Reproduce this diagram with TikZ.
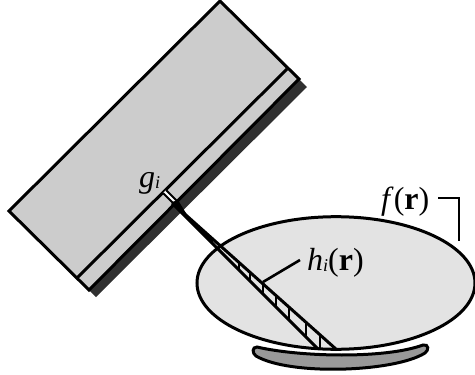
\documentclass[tikz,border=0pt]{standalone}
\usepackage{fontspec}
\setmainfont{Liberation Serif}
\usetikzlibrary{positioning}
\definecolor{slab}{gray}{0.80}
\definecolor{shield}{gray}{0.19}
\definecolor{body}{gray}{0.89}
\definecolor{lens}{gray}{0.60}
\newcommand{\lbl}[2]{\textit{#1}\raisebox{-1pt}{\fontsize{18}{18}\selectfont\textit{#2}}}
\tikzset{
  edge/.style={line width=#1,draw=black},
  edge/.default=3pt,
  lab/.style={font=\fontsize{32}{32}\selectfont,inner sep=0pt,anchor=base west},
}
\begin{document}
\begin{tikzpicture}[x=1pt,y=-1pt]
    \useasboundingbox (0,0) rectangle (475,375);
    % camera head
    \fill[shield] (299,79) -- (307,87) -- (96,297) -- (89,290) -- cycle;
    \draw[edge,fill=slab,line join=miter] (220,1) -- (9,211) -- (89,290) -- (299,79) -- cycle;
    \draw[edge] (287,69) -- (77,278);
    % object
    \draw[edge,fill=body] (336,283) ellipse [x radius=139,y radius=66.3];
    \draw[edge,fill=lens] (257,347) .. controls (300,357) and (385,359) .. (423,345)
      .. controls (429,344) and (429,350) .. (425,353)
      .. controls (395,372) and (290,376) .. (256,356)
      .. controls (252,353) and (252,347) .. (257,347) -- cycle;
    % detector element and channel
    \fill[white] (163,193) -- (166,190) -- (177,201) -- (174,204) -- cycle;
    \draw[edge=1.8pt] (163,193) -- (174,204) (166,190) -- (177,201);
    \fill[black] (172,202) -- (178,200) -- (192,223) -- cycle;
    \draw[edge=3pt] (172,203) -- (318,349) (178,208) -- (337,350);
    \foreach \x/\a/\b in {320/334/349,306/322/336,289/307/321,276/295/307,263/283/293,250/272/280,239/262/269}
      \draw[edge=2.6pt] (\x,\a) -- (\x,\b);
    % labels
    \node[lab] (gi) at (139,187) {\lbl{g}{i}};
    \node[lab] (hi) at (307,270) {\lbl{h}{i}(\textbf{r})};
    \node[lab] (fr) at (381,209) {\textit{f}(\textbf{r})};
    \coordinate (hiend) at (263,282);
    \draw[edge=2.6pt] (300,260) -- (hiend);
    \draw[edge=2.6pt] (438,198) -- (459,198) -- (459,241);
\end{tikzpicture}
\end{document}
